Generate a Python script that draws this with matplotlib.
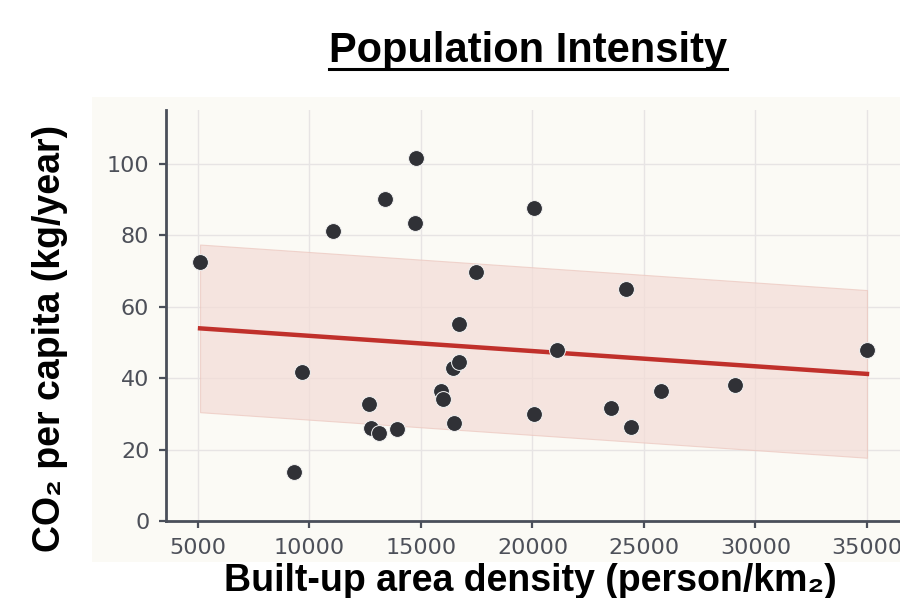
import numpy as np
import matplotlib
matplotlib.use("Agg")
import matplotlib.pyplot as plt
from matplotlib.patches import Rectangle
from matplotlib.lines import Line2D

# ---- data ----
density = [5093, 9309, 9656, 11069, 12668, 12737, 13131, 13386, 13942, 14753,
           14776, 15911, 15981, 16490, 16444, 16722, 16699, 17463, 20081, 20058,
           21077, 23533, 24181, 24413, 25757, 29069, 35000]
co2 = [72.5, 13.6, 41.6, 81.2, 32.6, 26.0, 24.7, 90.1, 25.8, 83.5,
       101.7, 36.4, 34.0, 27.3, 42.9, 44.4, 55.2, 69.8, 87.5, 30.0,
       47.9, 31.5, 64.9, 26.4, 36.4, 38.1, 47.9]
x_ticks = [5000, 10000, 15000, 20000, 25000, 30000, 35000]
y_ticks = [0, 20, 40, 60, 80, 100]

title = "Population Intensity"
xlabel = "Built-up area density (person/km\u2082)"
ylabel = "CO\u2082 per capita (kg/year)"

# ---- figure ----
W, H = 900, 598
fig = plt.figure(figsize=(W / 100, H / 100), dpi=100, facecolor="white")

cream = "#fbfaf5"
bg = Rectangle((92 / W, (H - 562) / H), (900 - 92) / W, (562 - 97) / H,
               transform=fig.transFigure, facecolor=cream,
               edgecolor="none", zorder=-10)
fig.patches.append(bg)

ax = fig.add_axes([166 / W, (H - 521) / H, (900 - 166) / W, (521 - 110) / H])
ax.set_zorder(5)
ax.set_facecolor(cream)

x = np.array(density, dtype=float)
y = np.array(co2, dtype=float)
slope, intercept = np.polyfit(x, y, 1)
resid = y - (slope * x + intercept)
half = np.std(resid)
xs = np.linspace(x.min(), x.max(), 50)
ys = slope * xs + intercept

ax.fill_between(xs, ys - half, ys + half, color="#f3dcd6", alpha=0.7,
                edgecolor="#ecc6be", linewidth=0.8, zorder=2)
ax.plot(xs, ys, color="#c0302b", linewidth=3.2, zorder=3)
ax.scatter(x, y, s=130, color="#303136", edgecolors="#f4f4f4", linewidths=0.7, zorder=4)

ax.set_xlim(3565, 36480)
ax.set_ylim(0, 115)
ax.set_xticks(x_ticks)
ax.set_yticks(y_ticks)
ax.grid(True, color="#e7e4e4", linewidth=1.0, zorder=1)
ax.set_axisbelow(True)

spine_c = "#4a4f5a"
for s in ["top", "right"]:
    ax.spines[s].set_visible(False)
for s in ["left", "bottom"]:
    ax.spines[s].set_color(spine_c)
    ax.spines[s].set_linewidth(2.0)
ax.tick_params(axis="both", colors=spine_c, length=5, width=1.6,
               labelsize=16, labelcolor="#4d5059", pad=7)

lab_font = ["Liberation Sans", "DejaVu Sans"]
fig.text(530 / W, (H - 591) / H, xlabel, ha="center", va="baseline",
         fontsize=27, fontweight="bold", family=lab_font, color="black")
fig.text(50 / W, (H - 338) / H, ylabel, ha="center", va="center", rotation=90,
         fontsize=27, fontweight="bold", family=lab_font, color="black")
t = fig.text(528 / W, (H - 62) / H, title, ha="center", va="baseline",
             fontsize=30, fontweight="bold", family=lab_font, color="black")

fig.canvas.draw()
bb = t.get_window_extent()
uy = (H - 69) / H
fig.lines.append(Line2D([bb.x0 / W, bb.x1 / W], [uy, uy], transform=fig.transFigure,
                        color="black", linewidth=2.2))

fig.savefig("out.png", dpi=100, facecolor="white")
